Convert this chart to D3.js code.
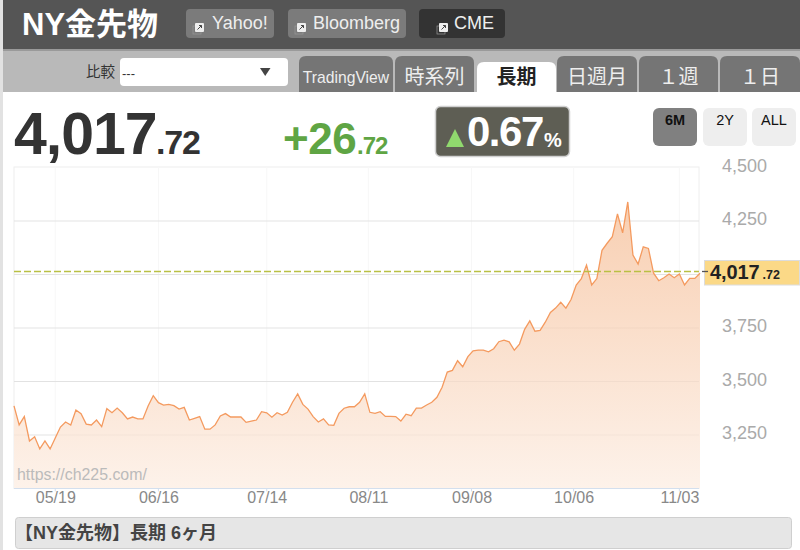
<!DOCTYPE html>
<html><head><meta charset="utf-8">
<script src="https://cdn.jsdelivr.net/npm/d3@7"></script>
<style>
html,body{margin:0;padding:0;background:#fff;overflow:hidden}
svg{display:block}
text{font-family:"Liberation Sans","Noto Sans CJK JP",sans-serif}
</style></head><body><svg id="c" width="800" height="550"></svg>
<script>
const prices=[3386,3297,3336,3222,3242,3185,3222,3185,3236,3287,3311,3297,3367,3350,3301,3297,3320,3289,3373,3354,
3376,3354,3325,3334,3325,3325,3386,3434,3401,3390,3393,3387,3371,3379,3320,3328,3336,3277,3277,3297,
3339,3350,3334,3334,3334,3309,3315,3320,3359,3354,3333,3354,3343,3356,3403,3442,3393,3371,3336,3311,
3325,3297,3295,3351,3375,3382,3382,3403,3442,3356,3351,3359,3337,3337,3336,3315,3347,3340,3376,3376,
3390,3403,3426,3473,3544,3552,3597,3569,3616,3643,3647,3647,3639,3653,3686,3693,3685,3646,3675,3744,
3783,3735,3739,3777,3823,3843,3870,3843,3883,3951,3981,4044,3951,3981,4113,4146,4177,4283,4195,4339,
4091,4049,4129,4122,4006,3971,3985,4002,3985,4002,3951,3982,3982,4006];
const xTickIndex=[8,28,49,68.7,88.7,108.5,129];
const xTickLabels=["05/19","06/16","07/14","08/11","09/08","10/06","11/03"];
const yTicks=[3250,3500,3750,4000,4250,4500];
const yGrid=[3250,3500,3750,4000,4250];
const lastPrice=4017.72;
const links=["Yahoo!","Bloomberg","CME"];
const tabs=["TradingView","時系列","長期","日週月","１週","１日"];
const ranges=["6M","2Y","ALL"];

const svg=d3.select("#c");
const W={l:14,r:699,t:167,b:488.5};
const x=d3.scaleLinear().domain([0,prices.length-1]).range([W.l,700]);
const y=d3.scaleLinear().domain([3000,4500]).range([W.b,167.5]);

function T(t,px,py,size,fill,o={}){
  const e=svg.append("text").attr("x",px).attr("y",py).attr("font-size",size).attr("fill",fill).text(t);
  if(o.bold)e.attr("font-weight","bold");
  if(o.anchor)e.attr("text-anchor",o.anchor);
  if(o.ls!==undefined)e.attr("letter-spacing",o.ls);
  return e;
}
function R(a,b,w,h,fill,rx=0,stroke=null){
  const e=svg.append("rect").attr("x",a).attr("y",b).attr("width",w).attr("height",h).attr("fill",fill).attr("rx",rx);
  if(stroke)e.attr("stroke",stroke);
  return e;
}
function tabPath(a,b,w,h,r,fill){
  svg.append("path").attr("fill",fill).attr("d",`M${a},${b+h}V${b+r}Q${a},${b} ${a+r},${b}H${a+w-r}Q${a+w},${b} ${a+w},${b+r}V${b+h}Z`);
}

// page chrome
R(0,0,3,550,"#e2e2e2");
R(3,0,797,49,"#555555");
R(3,49,797,2,"#9a9a9a");
R(3,51,797,41,"#b9b9b9");
T("NY金先物",22,35,31,"#fff",{bold:true});

// link buttons
const linkBox=[[186,88,"#7b7b7b",212],[288,118,"#7b7b7b",313],[419,86,"#333333",454]];
links.forEach((t,i)=>{
  const [a,w,f,tx]=linkBox[i];
  R(a,9,w,29,f,4);
  const ix=i==2?439:a+9;
  R(ix-2,26,8,8,"none",0,"#999").attr("stroke-width",.7);
  R(ix,23,9,9,"#eee",1);
  svg.append("path").attr("d",`M${ix+2.5},${29.5}L${ix+6.5},${25.5}M${ix+4},${25.5}H${ix+6.5}V${28}`).attr("stroke","#444").attr("stroke-width",1).attr("fill","none");
  T(t,tx,29,18,"#eee");
});

// compare select
T("比較",86,77,14.5,"#333");
R(120,58,168,28,"#fff",4);
T("---",122,78,13,"#333");
svg.append("path").attr("d","M260,68H270.5L265.2,76Z").attr("fill","#444");

// tabs
const tabBox=[[299,94],[395,79],[477,79],[557,80],[639,79],[720,80]];
tabs.forEach((t,i)=>{
  const [a,w]=tabBox[i];
  const on=i===2;
  tabPath(a,on?62:56,w,on?30:36,7,on?"#fff":"#757575");
  const size=i===0?15.7:20;
  T(t,a+w/2,i===0?83:84,size,on?"#222":"#eee",{anchor:"middle",bold:on});
});

// headline figures
T("4,017",14,154,59,"#333",{bold:true,ls:-1});
T(".72",156,154,34,"#333",{bold:true,ls:-1.2});
T("+26",283,154,44,"#5fa544",{bold:true,ls:-.4});
T(".72",357,154,24,"#5fa544",{bold:true,ls:-1});
R(435.5,106.5,134,50,"#5e5e54",5,"#d0d0d0").attr("stroke-width",1.5);
svg.append("path").attr("d","M446,147L455,129L464,147Z").attr("fill","#90d96e");
T("0.67",467,146,42,"#fff",{bold:true,ls:-1.5});
T("%",544,147,20,"#fff",{bold:true});

// range buttons
[[653,"#808080"],[703,"#eeeeee"],[752,"#eeeeee"]].forEach(([a,f],i)=>{
  R(a,108,44,38,f,6);
  T(ranges[i],a+22,125,14.5,"#111",{anchor:"middle",bold:i===0});
});

// plot
const defs=svg.append("defs");
const g=defs.append("linearGradient").attr("id","ga").attr("x1",0).attr("x2",0).attr("y1",0).attr("y2",1);
g.append("stop").attr("offset",0).attr("stop-color","#f8cfb2");
g.append("stop").attr("offset",1).attr("stop-color","#fdf2ea");

svg.append("rect").attr("x",W.l).attr("y",167).attr("width",685).attr("height",321.5).attr("fill","#fff").attr("stroke","#eeeeee");

const gx=svg.append("g").attr("transform",`translate(0,${W.b})`)
  .call(d3.axisBottom(x).tickValues(xTickIndex).tickFormat((d,i)=>xTickLabels[i]).tickSize(0).tickPadding(3.5));
gx.select(".domain").remove();
gx.selectAll("text").attr("font-size",16).attr("fill","#888").attr("font-family",null);

svg.append("g").selectAll("line").data(xTickIndex).join("line")
  .attr("x1",d=>x(d)).attr("x2",d=>x(d)).attr("y1",167).attr("y2",W.b).attr("stroke","#f7f7f7");
svg.append("g").selectAll("line").data(yGrid).join("line")
  .attr("x1",W.l).attr("x2",W.r).attr("y1",d=>y(d)).attr("y2",d=>y(d)).attr("stroke","#ebebeb");

svg.append("path").datum(prices).attr("fill","url(#ga)")
  .attr("d",d3.area().x((d,i)=>x(i)).y0(W.b).y1(d=>y(d)));
// grid shows faintly through the fill
svg.append("g").selectAll("line").data(yGrid).join("line")
  .attr("x1",W.l).attr("x2",W.r).attr("y1",d=>y(d)).attr("y2",d=>y(d)).attr("stroke","#000").attr("stroke-opacity",.035);
svg.append("path").datum(prices).attr("fill","none").attr("stroke","#f49a5f").attr("stroke-width",1.3)
  .attr("d",d3.line().x((d,i)=>x(i)).y(d=>y(d)));
svg.append("line").attr("x1",W.l).attr("x2",W.r).attr("y1",W.b).attr("y2",W.b).attr("stroke","#d3dfee");
svg.selectAll(".xm").data(xTickIndex).join("line").attr("x1",d=>x(d)).attr("x2",d=>x(d)).attr("y1",W.b).attr("y2",W.b+3).attr("stroke","#d3dfee");

T("https://ch225.com/",17,480,15.9,"#bbbbbb");

const gy=svg.append("g").attr("transform","translate(767,-2)")
  .call(d3.axisLeft(y).tickValues(yTicks.filter(d=>d!==4000)).tickFormat(d3.format(",")).tickSize(0).tickPadding(0));
gy.select(".domain").remove();
gy.selectAll("text").attr("font-size",18).attr("fill","#aaaaaa").attr("font-family",null);

// last-price marker
const ly=Math.round(y(lastPrice))+.5;
svg.append("line").attr("x1",W.l).attr("x2",W.r).attr("y1",ly).attr("y2",ly).attr("stroke","#b9c043").attr("stroke-width",1.4).attr("stroke-dasharray","7,3");
R(704.5,260.5,95,24.5,"#fbd987",0,"#dcdcdc");
svg.append("line").attr("x1",702).attr("x2",708).attr("y1",ly).attr("y2",ly).attr("stroke","#555").attr("stroke-width",1.3);
T("4,017",710,279,20,"#222",{bold:true,ls:-.1});
T(".72",762.5,279,12.5,"#222",{bold:true});

// footer
R(15.5,517.5,776,31,"#e6e6e6",3,"#cfcfcf");
T("【NY金先物】長期 6ヶ月",15,539,18,"#444",{bold:true});
</script></body></html>
